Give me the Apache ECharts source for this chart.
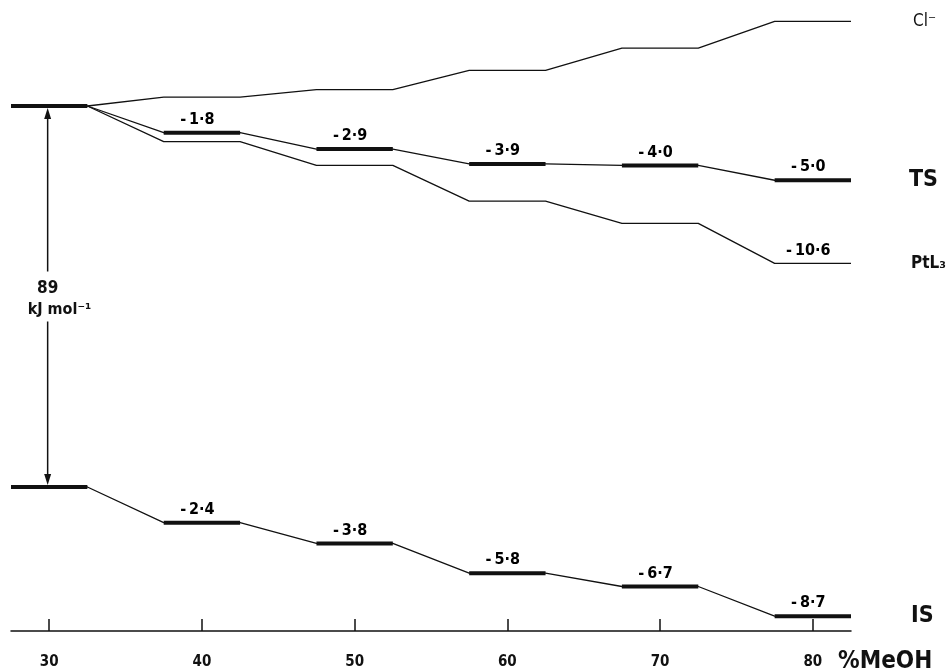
<!DOCTYPE html>
<html><head><meta charset="utf-8">
<script src="https://cdn.jsdelivr.net/npm/echarts@6/dist/echarts.min.js"></script>
<style>html,body{margin:0;padding:0;background:#fff}#c{width:949px;height:672px}</style>
</head><body><div id="c"></div>
<script>
// ---- data ----
const categories = [30, 40, 50, 60, 70, 80];
const xTickLabels = ['30', '40', '50', '60', '70', '80'];
const tsValues = [0, -1.8, -2.9, -3.9, -4.0, -5.0];
const isValues = [0, -2.4, -3.8, -5.8, -6.7, -8.7];
const ptl3Values = [0, -2.4, -4.0, -6.4, -7.9, -10.6];
const clValues = [0, 0.6, 1.1, 2.4, 3.9, 5.7];
const ptl3Labelled = [false, false, false, false, false, true];
const seriesNames = { cl: 'Cl⁻', ts: 'TS', ptl3: 'PtL₃', is: 'IS' };
const gapValue = '89';
const gapUnit = 'kJ mol⁻¹';
const axisName = '%MeOH';

// ---- layout / style ----
const HALF = 2.5;          // half width of a level segment (x units)
const K = 14.85;           // px per kJ (schematic scale)
const GRID_TOP = 0, GRID_H = 631;
const TS_ZERO_PX = 106, IS_ZERO_PX = 487;
const FONT = '"DejaVu Sans Condensed","DejaVu Sans",sans-serif';
const INK = '#111';
const ARROW_X = 29.9;

function fmt(v) {
  const s = Math.abs(v).toFixed(1).split('.');
  return '-\u2009' + s[0] + '·' + s[1];
}
function path(vals, skipFirstStart) {
  const pts = [];
  vals.forEach((v, i) => {
    const c = categories[i];
    if (!(i === 0 && skipFirstStart)) pts.push([c - HALF, v]);
    pts.push([c + HALF, v]);
  });
  return pts;
}

const y0max = TS_ZERO_PX / K, y0min = y0max - GRID_H / K;
const y1max = IS_ZERO_PX / K, y1min = y1max - GRID_H / K;

const series = [];
function thin(name, vals, yIdx, skip, labelFont, dist) {
  series.push({
    name, type: 'line', yAxisIndex: yIdx, data: path(vals, skip),
    symbol: 'none', silent: true, z: 2,
    lineStyle: { color: INK, width: 1.3 },
    endLabel: { show: true, formatter: name, distance: dist, color: INK, fontFamily: FONT, ...labelFont }
  });
}
thin(seriesNames.cl, clValues, 0, true, { fontSize: 17 }, 62);
thin(seriesNames.ptl3, ptl3Values, 0, true, { fontSize: 17, fontWeight: 'bold' }, 60);
thin(seriesNames.ts, tsValues, 0, false, { fontSize: 23, fontWeight: 'bold' }, 58);
thin(seriesNames.is, isValues, 1, false, { fontSize: 23, fontWeight: 'bold' }, 60);

function thick(vals, yIdx) {
  vals.forEach((v, i) => {
    const c = categories[i];
    series.push({
      type: 'line', yAxisIndex: yIdx, symbol: 'none', silent: true, z: 3,
      data: [[c - HALF, v], [c + HALF, v]],
      lineStyle: { color: INK, width: 4, cap: 'butt' }
    });
  });
}
thick(tsValues, 0);
thick(isValues, 1);

function labels(vals, yIdx, mask) {
  const data = [];
  vals.forEach((v, i) => {
    if (mask ? mask[i] : i > 0) data.push({ value: [categories[i] - 0.3, v], label: { formatter: fmt(v) } });
  });
  series.push({
    type: 'scatter', yAxisIndex: yIdx, data, symbolSize: 0, silent: true, z: 4,
    itemStyle: { color: INK, opacity: 1 },
    label: { show: true, position: 'top', distance: 5, color: '#000', opacity: 1, fontFamily: FONT, fontSize: 16, fontWeight: 'bold' }
  });
}
labels(tsValues, 0);
labels(isValues, 1);
labels(ptl3Values, 0, ptl3Labelled);

const chart = echarts.init(document.getElementById('c'), null, { renderer: 'canvas' });
chart.setOption({
  animation: false,
  backgroundColor: '#fff',
  grid: { left: 11, width: 840, top: GRID_TOP, height: GRID_H, containLabel: false },
  xAxis: {
    type: 'value', min: 27.5, max: 82.5,
    axisLine: { show: true, onZero: false, lineStyle: { color: INK, width: 1.5 } },
    axisTick: { show: true, inside: true, length: 12, customValues: categories, lineStyle: { color: INK, width: 1.5 } },
    axisLabel: { customValues: categories, margin: 24, color: INK, fontFamily: FONT, fontSize: 15, fontWeight: 'bold',
      formatter: v => xTickLabels[categories.indexOf(v)] },
    splitLine: { show: false }
  },
  yAxis: [
    { type: 'value', show: false, min: y0min, max: y0max, splitLine: { show: false } },
    { type: 'value', show: false, min: y1min, max: y1max, splitLine: { show: false } }
  ],
  series
});

// arrow between TS and IS reference levels
const p1 = chart.convertToPixel({ xAxisIndex: 0, yAxisIndex: 0 }, [ARROW_X, tsValues[0]]);
const p2 = chart.convertToPixel({ xAxisIndex: 0, yAxisIndex: 1 }, [ARROW_X, isValues[0]]);
const ax = p1[0], yT = p1[1] + 2, yB = p2[1] - 2, mid = (yT + yB) / 2;
chart.setOption({
  graphic: [
    { type: 'line', shape: { x1: ax, y1: yT + 6, x2: ax, y2: mid - 25 }, style: { stroke: INK, lineWidth: 1.5 } },
    { type: 'line', shape: { x1: ax, y1: mid + 25, x2: ax, y2: yB - 6 }, style: { stroke: INK, lineWidth: 1.5 } },
    { type: 'polygon', shape: { points: [[ax, yT], [ax - 3.5, yT + 11], [ax + 3.5, yT + 11]] }, style: { fill: INK } },
    { type: 'polygon', shape: { points: [[ax, yB], [ax - 3.5, yB - 11], [ax + 3.5, yB - 11]] }, style: { fill: INK } },
    { type: 'text', style: { text: gapValue, x: ax, y: mid - 8, align: 'center', verticalAlign: 'middle',
      font: 'bold 17px ' + FONT, fill: INK } },
    { type: 'text', style: { text: gapUnit, x: ax - 20, y: mid + 13, align: 'left', verticalAlign: 'middle',
      font: 'bold 16px ' + FONT, fill: INK } },
    { type: 'text', style: { text: axisName, x: 838, y: 662, align: 'left', verticalAlign: 'middle',
      font: 'bold 24px ' + FONT, fill: INK } }
  ]
});
</script>
</body></html>
